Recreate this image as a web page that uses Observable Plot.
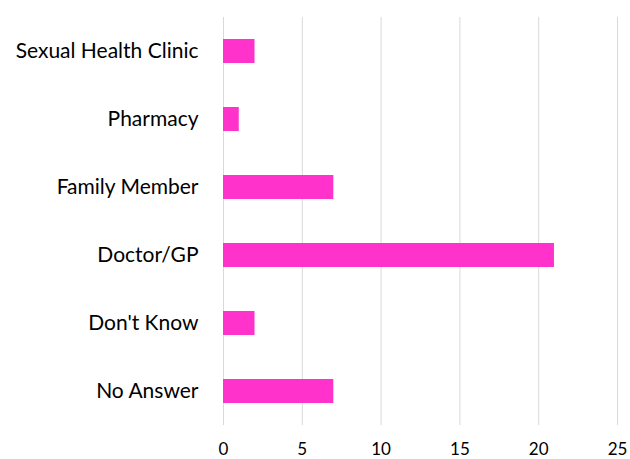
<!DOCTYPE html>
<html>
<head>
<meta charset="utf-8">
<script src="https://cdn.jsdelivr.net/npm/d3@7"></script>
<script src="https://cdn.jsdelivr.net/npm/@observablehq/plot@0.6"></script>
<style>
  html, body { margin: 0; padding: 0; background: #fff; }
</style>
</head>
<body>
<div id="chart"></div>
<script>
const categories = ["Sexual Health Clinic", "Pharmacy", "Family Member", "Doctor/GP", "Don't Know", "No Answer"];
const values = [2, 1, 7, 21, 2, 7];
const xTicks = [0, 5, 10, 15, 20, 25];

const data = categories.map((c, i) => ({category: c, value: values[i]}));

const chart = Plot.plot({
  width: 630,
  height: 459,
  marginTop: 17,
  marginBottom: 34,
  marginLeft: 223,
  marginRight: 13,
  style: {fontFamily: "Lato, 'Open Sans', sans-serif", background: "#fff", color: "#000"},
  x: {domain: [0, 25], ticks: xTicks},
  y: {domain: categories, paddingInner: 0.647, paddingOuter: 0.3235},
  marks: [
    Plot.gridX(xTicks, {stroke: "#d9d9d9", strokeOpacity: 1, strokeWidth: 1}),
    Plot.barX(data, {x: "value", y: "category", fill: "#ff33cc"}),
    Plot.axisX({ticks: xTicks, tickSize: 0, tickPadding: 17, fontSize: 17, label: null, fill: "#000"}),
    Plot.axisY({tickSize: 0, tickPadding: 25, fontSize: 21, label: null, fill: "#000"})
  ]
});
document.getElementById("chart").appendChild(chart);
</script>
</body>
</html>
